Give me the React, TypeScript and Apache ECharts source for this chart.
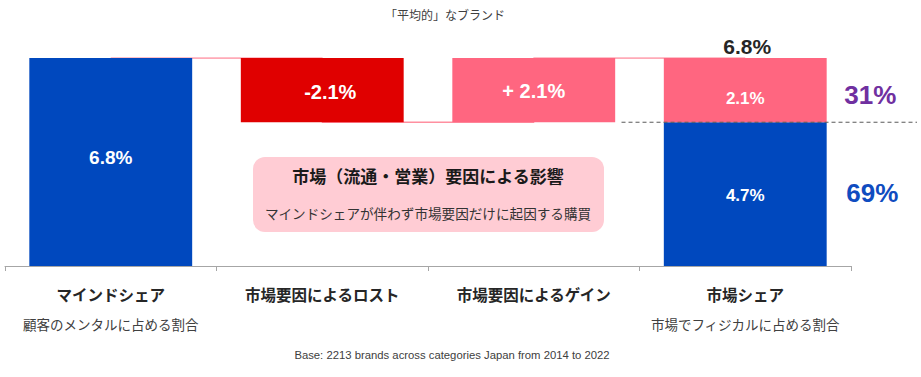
import React, { useEffect, useRef } from "react";
import * as echarts from "echarts";

const categories = ["マインドシェア", "市場要因によるロスト", "市場要因によるゲイン", "市場シェア"];
const subLabels = ["顧客のメンタルに占める割合", "", "", "市場でフィジカルに占める割合"];
const baseValues = [0, 4.7, 4.7, 0];
const blueValues: (number | null)[] = [6.8, null, null, 4.7];
const redValues: (number | null)[] = [null, 2.1, null, null];
const pinkValues: (number | null)[] = [null, null, 2.1, 2.1];
const connectorLevels = [6.8, 4.7, 6.8, 6.8];
const barLabels = { blue: ["6.8%", "", "", "4.7%"], red: ["", "-2.1%", "", ""], pink: ["", "", "+ 2.1%", "2.1%"] };
const totalLabel = "6.8%";
const totalValue = 6.8;
const shareLabels = ["31%", "69%"];
const shareMid = [5.75, 2.35];
const dividerValue = 4.7;
const titleText = "「平均的」なブランド";
const boxTitle = "市場（流通・営業）要因による影響";
const boxSub = "マインドシェアが伴わず市場要因だけに起因する購買";
const footnote = "Base: 2213 brands across categories Japan from 2014 to 2022";

const FONT = 'Arial, "Liberation Sans", "Noto Sans CJK JP", sans-serif';
const BLUE = "#0048BE";
const RED = "#E00000";
const PINK = "#FF6680";

type LabelOpt = { text: string; size: number; offset?: number[] };

export default function App() {
  const ref = useRef<HTMLDivElement>(null);
  useEffect(() => {
    document.body.style.margin = "0";
    const chart = echarts.init(ref.current!, null, { renderer: "svg" });
    const mkData = (vals: (number | null)[], labels: string[], sizes: number[], offsets: number[][]) =>
      vals.map((v, i) => ({
        value: v,
        label: { show: !!labels[i], formatter: labels[i], fontSize: sizes[i], offset: offsets[i] },
      }));
    const barLabel = { position: "inside", color: "#fff", fontWeight: "bold", fontFamily: FONT };
    chart.setOption({
      animation: false,
      textStyle: { fontFamily: FONT },
      grid: { left: 5, right: 70, top: 58, bottom: 111 },
      xAxis: {
        type: "category",
        data: categories,
        axisLine: { lineStyle: { color: "#A6A6A6", width: 1 } },
        axisTick: { show: true, length: 5, lineStyle: { color: "#A6A6A6" } },
        axisLabel: {
          margin: 14,
          interval: 0,
          formatter: (v: string, i: number) =>
            subLabels[i] ? `{b|${v}}\n{s|${subLabels[i]}}` : `{b|${v}}`,
          rich: {
            b: { fontSize: 15.5, fontWeight: "bold", color: "#262626", lineHeight: 30, fontFamily: FONT },
            s: { fontSize: 13.5, color: "#404040", lineHeight: 30, fontFamily: FONT },
          },
        },
      },
      yAxis: { type: "value", min: 0, max: 6.8, show: false, splitLine: { show: false } },
      graphic: [
        {
          type: "text",
          x: 445,
          y: 16,
          style: {
            text: titleText,
            fontSize: 12,
            fill: "#404040",
            align: "center",
            verticalAlign: "middle",
            fontFamily: FONT,
          },
        },
        {
          type: "rect",
          shape: { x: 253, y: 157, width: 351, height: 75, r: 12 },
          style: { fill: "#FFCCD4" },
          z: 0,
        },
        {
          type: "text",
          x: 428,
          y: 177,
          style: {
            text: boxTitle,
            fontSize: 17,
            fontWeight: "bold",
            fill: "#1A1A1A",
            align: "center",
            verticalAlign: "middle",
            fontFamily: FONT,
          },
        },
        {
          type: "text",
          x: 428,
          y: 214,
          style: {
            text: boxSub,
            fontSize: 13.6,
            fill: "#333333",
            align: "center",
            verticalAlign: "middle",
            fontFamily: FONT,
          },
        },
        {
          type: "text",
          x: 452,
          y: 355,
          style: {
            text: footnote,
            fontSize: 11.3,
            fill: "#404040",
            align: "center",
            verticalAlign: "middle",
            fontFamily: FONT,
          },
        },
      ],
      series: [
        {
          type: "line",
          data: connectorLevels,
          step: "end",
          symbol: "none",
          lineStyle: { color: "#FF8FA0", width: 1.5 },
          z: 1,
        },
        {
          type: "bar",
          stack: "w",
          data: baseValues,
          itemStyle: { color: "transparent" },
          barWidth: "77%",
          z: 2,
        },
        {
          type: "bar",
          stack: "w",
          data: mkData(blueValues, barLabels.blue, [19, 0, 0, 17], [[0, -5], [0, 0], [0, 0], [0, 1]]),
          itemStyle: { color: BLUE },
          label: barLabel,
          z: 3,
        },
        {
          type: "bar",
          stack: "w",
          data: mkData(redValues, barLabels.red, [0, 20, 0, 0], [[0, 0], [8, 2], [0, 0], [0, 0]]),
          itemStyle: { color: RED },
          label: barLabel,
          z: 3,
        },
        {
          type: "bar",
          stack: "w",
          data: mkData(pinkValues, barLabels.pink, [0, 0, 20, 17], [[0, 0], [0, 0], [0, 1], [0, 8]]),
          itemStyle: { color: PINK },
          label: barLabel,
          z: 3,
        },
        {
          type: "custom",
          data: [[3, dividerValue]],
          z: 4,
          renderItem: (params: any, api: any) => {
            const p = api.coord([api.value(0), api.value(1)]);
            const w = api.size([1, 0])[0];
            return {
              type: "line",
              shape: { x1: p[0] - w * 0.585, y1: p[1], x2: api.getWidth() - 4, y2: p[1] },
              style: { stroke: "#595959", lineWidth: 1, lineDash: [4, 3] },
            };
          },
        },
        {
          type: "scatter",
          symbolSize: 0,
          z: 5,
          itemStyle: { opacity: 1 },
          data: [
            {
              value: [3, totalValue],
              label: {
                show: true,
                formatter: totalLabel,
                position: "inside",
                offset: [2, -12],
                fontSize: 21,
                fontWeight: "bold",
                color: "#262626",
                backgroundColor: "#fff",
                padding: [0, 2],
              },
            },
            {
              value: [3, shareMid[0]],
              label: {
                show: true,
                formatter: shareLabels[0],
                position: "inside",
                offset: [125, 5],
                fontSize: 26,
                fontWeight: "bold",
                color: "#7030A0",
              },
            },
            {
              value: [3, shareMid[1]],
              label: {
                show: true,
                formatter: shareLabels[1],
                position: "inside",
                offset: [127, -1],
                fontSize: 26,
                fontWeight: "bold",
                color: "#0F4CC0",
              },
            },
          ],
        },
      ],
    });
    return () => chart.dispose();
  }, []);
  return <div ref={ref} style={{ width: 921, height: 377 }} />;
}
